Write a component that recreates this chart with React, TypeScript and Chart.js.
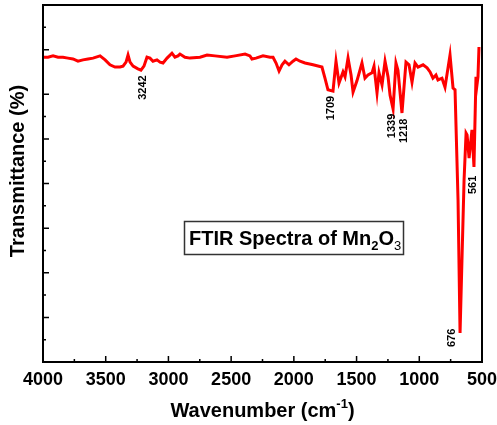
import { useEffect, useRef } from 'react';
import { Chart, registerables } from 'chart.js';

Chart.register(...registerables);

// Spectrum (wavenumber in cm-1, transmittance in arbitrary %)
const wavenumbers = [
  4000, 3960, 3920, 3880, 3841, 3801, 3761, 3721, 3681, 3641, 3601, 3545, 3505, 3466, 3426, 3386,
  3362, 3338, 3322, 3306, 3282, 3243, 3219, 3195, 3171, 3147, 3123, 3091, 3067, 3043, 3011, 2972,
  2948, 2924, 2908, 2868, 2828, 2748, 2692, 2629, 2533, 2469, 2389, 2350, 2334, 2302, 2246, 2190,
  2166, 2142, 2118, 2094, 2071, 2039, 2007, 1983, 1951, 1911, 1847, 1776, 1752, 1728, 1688, 1664,
  1640, 1608, 1592, 1568, 1544, 1528, 1497, 1457, 1433, 1409, 1377, 1361, 1337, 1321, 1297, 1273,
  1249, 1233, 1209, 1186, 1170, 1138, 1106, 1082, 1058, 1034, 1010, 970, 938, 914, 891, 867,
  851, 819, 795, 755, 731, 715, 691, 675, 643, 627, 619, 603, 580, 564, 548, 540,
  532, 524,
];
const transmittance = [
  68.3, 68.3, 68.6, 68.3, 68.3, 68.1, 67.9, 67.4, 67.7, 67.9, 68.1, 68.6, 67.7, 66.6, 66.1, 66.1,
  66.3, 67.2, 68.8, 67.2, 66.3, 65.7, 65.4, 66.3, 68.3, 68.1, 67.4, 67.7, 67.2, 67.0, 68.1, 69.2,
  68.3, 68.6, 69.0, 68.3, 68.1, 68.3, 68.8, 68.6, 68.3, 68.6, 69.0, 68.6, 67.9, 68.1, 68.6, 68.3,
  68.3, 67.0, 65.2, 66.6, 67.4, 66.6, 67.4, 67.9, 67.4, 67.0, 66.6, 66.1, 63.6, 61.0, 60.7, 67.4,
  62.5, 65.0, 63.9, 68.1, 64.3, 60.5, 63.0, 67.0, 63.6, 64.3, 64.8, 66.3, 60.3, 64.8, 62.1, 67.4,
  63.9, 59.8, 56.7, 67.0, 65.4, 55.8, 67.2, 66.6, 62.7, 67.0, 66.1, 66.6, 65.9, 65.0, 63.6, 64.3,
  63.2, 63.6, 61.6, 68.8, 61.4, 61.0, 36.3, 6.5, 40.8, 51.3, 50.9, 45.7, 52.0, 43.7, 63.9, 62.1,
  63.9, 70.6,
];

const xTickValues = [4000, 3500, 3000, 2500, 2000, 1500, 1000, 500];
const xTickLabels = ['4000', '3500', '3000', '2500', '2000', '1500', '1000', '500'];
const xMinorTicks = [3750, 3250, 2750, 2250, 1750, 1250, 750];
const yMajorTicks = [0, 10, 20, 30, 40, 50, 60, 70, 80];
const yMinorTicks = [5, 15, 25, 35, 45, 55, 75];

const peakLabels = ['3242', '1709', '1339', '1218', '561', '676'];
const peakWavenumbers = [3203, 1704, 1217, 1122, 572, 739];
const peakValues = [61.5, 56.9, 52.9, 51.8, 39.7, 5.4];

const xTitle = 'Wavenumber (cm';
const xTitleSup = '-1';
const yTitle = 'Transmittance (%)';

const FONT = 'Arial, "Liberation Sans", sans-serif';

const decorPlugin = {
  id: 'decor',
  afterDatasetsDraw(chart: any) {
    const { ctx, chartArea: a, scales } = chart;
    const x = scales.x;
    const y = scales.y;
    ctx.save();
    ctx.strokeStyle = '#000';
    ctx.fillStyle = '#000';

    // frame
    ctx.lineWidth = 2;
    ctx.strokeRect(a.left, a.top, a.right - a.left, a.bottom - a.top);

    // inward ticks
    ctx.lineWidth = 1.5;
    ctx.beginPath();
    xTickValues.forEach((v) => {
      const px = x.getPixelForValue(v);
      ctx.moveTo(px, a.bottom);
      ctx.lineTo(px, a.bottom - 6);
    });
    xMinorTicks.forEach((v) => {
      const px = x.getPixelForValue(v);
      ctx.moveTo(px, a.bottom);
      ctx.lineTo(px, a.bottom - 3);
    });
    yMajorTicks.forEach((v) => {
      const py = y.getPixelForValue(v);
      ctx.moveTo(a.left, py);
      ctx.lineTo(a.left + 6, py);
    });
    yMinorTicks.forEach((v) => {
      const py = y.getPixelForValue(v);
      ctx.moveTo(a.left, py);
      ctx.lineTo(a.left + 3, py);
    });
    ctx.stroke();

    // x tick labels
    ctx.font = `bold 18px ${FONT}`;
    ctx.textAlign = 'center';
    ctx.textBaseline = 'alphabetic';
    xTickValues.forEach((v, i) => {
      ctx.fillText(xTickLabels[i], x.getPixelForValue(v), a.bottom + 23);
    });

    // x title with superscript
    ctx.font = `bold 20px ${FONT}`;
    const mainW = ctx.measureText(xTitle).width;
    ctx.font = `bold 13px ${FONT}`;
    const supW = ctx.measureText(xTitleSup).width;
    ctx.font = `bold 20px ${FONT}`;
    const closeW = ctx.measureText(')').width;
    const total = mainW + supW + closeW;
    const cx = (a.left + a.right) / 2;
    let sx = cx - total / 2;
    const by = a.bottom + 55;
    ctx.textAlign = 'left';
    ctx.fillText(xTitle, sx, by);
    sx += mainW;
    ctx.font = `bold 13px ${FONT}`;
    ctx.fillText(xTitleSup, sx, by - 9);
    sx += supW;
    ctx.font = `bold 20px ${FONT}`;
    ctx.fillText(')', sx, by);

    // y title
    ctx.save();
    ctx.translate(18, 171);
    ctx.rotate(-Math.PI / 2);
    ctx.textAlign = 'center';
    ctx.textBaseline = 'middle';
    ctx.font = `bold 20px ${FONT}`;
    ctx.fillText(yTitle, 0, 0);
    ctx.restore();

    // peak annotations
    ctx.font = `bold 11px ${FONT}`;
    peakLabels.forEach((t, i) => {
      ctx.save();
      ctx.translate(x.getPixelForValue(peakWavenumbers[i]), y.getPixelForValue(peakValues[i]));
      ctx.rotate(-Math.PI / 2);
      ctx.textAlign = 'center';
      ctx.textBaseline = 'middle';
      ctx.fillText(t, 0, 0);
      ctx.restore();
    });

    // boxed title
    ctx.lineWidth = 1.5;
    ctx.strokeStyle = '#333';
    ctx.strokeRect(184.5, 221.5, 219, 33);
    ctx.fillStyle = '#000';
    ctx.textAlign = 'left';
    ctx.textBaseline = 'alphabetic';
    let tx = 189;
    const tb = 245;
    const parts: [string, string, number][] = [
      ['FTIR Spectra of Mn', `bold 20px ${FONT}`, 0],
      ['2', `bold 13px ${FONT}`, 5],
      ['O', `bold 20px ${FONT}`, 0],
      ['3', `13px ${FONT}`, 5],
    ];
    parts.forEach(([s, f, dy]) => {
      ctx.font = f;
      ctx.fillText(s, tx, tb + dy);
      tx += ctx.measureText(s).width;
    });

    ctx.restore();
  },
};

export default function App() {
  const ref = useRef<HTMLCanvasElement | null>(null);
  useEffect(() => {
    if (!ref.current) return;
    const chart = new Chart(ref.current, {
      type: 'line',
      data: {
        datasets: [
          {
            data: wavenumbers.map((w, i) => ({ x: w, y: transmittance[i] })),
            borderColor: '#ff0000',
            borderWidth: 3,
            pointRadius: 0,
            tension: 0,
            fill: false,
          },
        ],
      },
      options: {
        responsive: false,
        animation: false,
        layout: { padding: { left: 43, top: 5, right: 15, bottom: 63 } },
        scales: {
          x: { type: 'linear', min: 500, max: 4000, reverse: true, display: false },
          y: { type: 'linear', min: 0, max: 80, display: false },
        },
        plugins: { legend: { display: false }, tooltip: { enabled: false } },
      },
      plugins: [decorPlugin],
    });
    return () => chart.destroy();
  }, []);
  return (
    <div style={{ position: 'fixed', left: 0, top: 0, width: 497, height: 425, background: '#fff' }}>
      <canvas ref={ref} width={497} height={425} style={{ display: 'block' }} />
    </div>
  );
}
